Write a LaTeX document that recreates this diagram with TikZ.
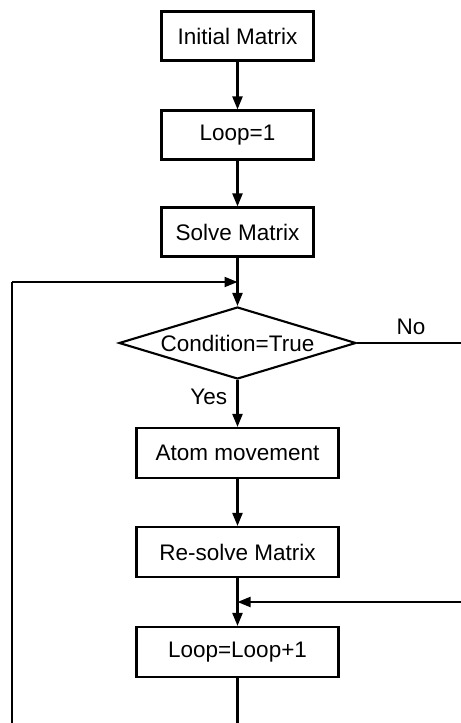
\documentclass[tikz,border=0pt]{standalone}
\usepackage{fontspec}
\setmainfont{Liberation Sans}
\usetikzlibrary{arrows.meta,shapes.geometric,positioning,calc}

\begin{document}
\begin{tikzpicture}[
    box/.style={draw, line width=1.2pt, minimum width=3.04cm, minimum height=0.98cm, align=center, font=\fontsize{12.8}{15}\selectfont},
    widebox/.style={box, minimum width=4.04cm, minimum height=1.0cm},
    cond/.style={draw, diamond, line width=1.2pt, aspect=3.3, inner sep=0pt, minimum width=4.74cm, minimum height=1.44cm, font=\fontsize{12.8}{15}\selectfont},
    lbl/.style={font=\fontsize{12.8}{15}\selectfont},
    arr/.style={-{Triangle[length=0.26cm, width=0.2cm]}, line width=1.2pt},
    ln/.style={line width=1.2pt}
]
\useasboundingbox (0,0) rectangle (9.2,-14.46);

\node[box] (init) at (4.75,-0.72) {Initial Matrix};
\node[box] (loopone) at (4.75,-2.70) {Loop=1};
\node[box] (solve) at (4.75,-4.64) {Solve Matrix};
\node[cond] (check) at (4.75,-6.86) {Condition=True};
\node[widebox] (atom) at (4.75,-9.06) {Atom movement};
\node[widebox] (resolve) at (4.75,-11.04) {Re-solve Matrix};
\node[widebox] (inc) at (4.75,-13.04) {Loop=Loop+1};

\coordinate (jtop) at (4.75,-5.64);
\coordinate (jmid) at (4.75,-12.04);

\draw[arr] (init) -- (loopone);
\draw[arr] (loopone) -- (solve);
\draw[arr] (solve) -- (check);
\draw[arr] (check) -- node[lbl, left=2pt, pos=0.35] (yes) {Yes} (atom);
\draw[arr] (atom) -- (resolve);
\draw[arr] (resolve) -- (inc);

% No branch, runs out past the right edge
\draw[ln] (check.east) -- node[lbl, above=1pt, pos=0.5] (no) {No} (9.3,-6.86) -- (9.3,-12.04);
\draw[arr] (9.3,-12.04) -- (jmid);

% loop back, runs out past the bottom edge
\draw[ln] (inc.south) -- (4.75,-14.7) -- (0.24,-14.7) -- (0.24,-5.64);
\draw[arr] (0.24,-5.64) -- (jtop);
\end{tikzpicture}
\end{document}
